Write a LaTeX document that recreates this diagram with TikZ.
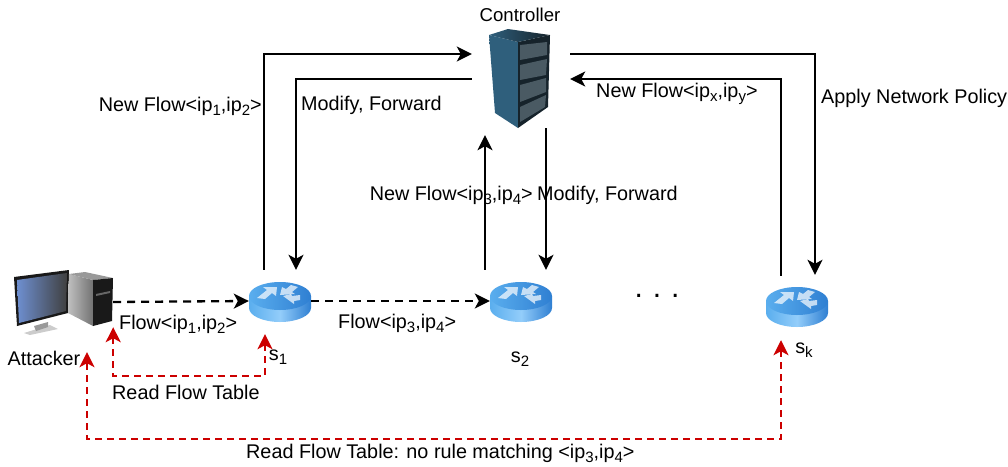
\documentclass[tikz,border=0pt]{standalone}
\usepackage{fontspec}
\setmainfont{Liberation Sans}
\usetikzlibrary{arrows.meta,positioning,calc}
\definecolor{flowred}{HTML}{CC0000}
\definecolor{rackpanel}{HTML}{4A5A63}
\definecolor{rackside}{HTML}{2F5F7C}
\definecolor{rackfront}{HTML}{16232B}
\definecolor{routertop}{HTML}{5AAEEE}
\definecolor{routerdark}{HTML}{2F7FD2}
\definecolor{routerlight}{HTML}{93CDFA}
\definecolor{screenblue}{HTML}{6E8FD0}
\newcommand{\lowsub}[1]{\raisebox{-4pt}{\fontsize{15}{15}\selectfont #1}}
\tikzset{
    lbl/.style={inner sep=0pt, font=\fontsize{19.8}{22}\selectfont},
    box/.style={inner sep=0pt, minimum width=#1, minimum height=#1},
    solidflow/.style={line width=2.3pt, -{Stealth[length=15pt,width=15pt,inset=4pt]}},
    dashflow/.style={solidflow, dash pattern=on 8pt off 6pt},
    readflow/.style={line width=2.3pt, flowred, dash pattern=on 7pt off 5pt, {Stealth[length=15pt,width=15pt,inset=4pt]}-{Stealth[length=15pt,width=15pt,inset=4pt]}},
    routerarrow/.style={fill=white, fill opacity=0.7, draw=none},
    routericon/.pic={
        \shade[left color=routertop, right color=routerdark, middle color=routerlight]
            (-31,-5) -- (-31,7) .. controls (-31,14.7) and (-17,21) .. (0,21)
            .. controls (17,21) and (31,14.7) .. (31,7) -- (31,-5) -- cycle;
        \shade[left color=routertop, right color=routerdark]
            (0,-5) ellipse[x radius=31, y radius=14];
        \fill[routerarrow] (-17,-14) -- (-3,-14) -- (-4,-5) -- (-8,-8) -- (-15,-2) -- (-23,-3) -- (-13,-11) -- cycle;
        \fill[routerarrow] (0,-6) -- (2,-14) -- (6,-12) -- (11,-16) -- (18,-14) -- (12,-9) -- (15,-7) -- cycle;
        \fill[routerarrow] (3,-5) -- (11,-7) -- (12,-5) -- (20,-6) -- (20,-1) -- (14,0) -- (14,3) -- cycle;
    }
}
\begin{document}
\begin{tikzpicture}[x=1pt, y=-1pt]
    \useasboundingbox (0,0) rectangle (1008,466);

    % Controller
    \node[box=98pt] (Controller) at (521,79) {};
    \shade[top color=rackside, middle color=black, bottom color=rackside]
        (489,35) -- (518,42) -- (518,128) -- (495,113) -- cycle;
    \fill[rackfront] (518,42) -- (550,35) -- (548,107) -- (518,128) -- cycle;
    \shade[left color=rackside, right color=rackfront]
        (489,35) -- (508,29) -- (550,35) -- (518,42) -- cycle;
    \fill[rackpanel] (520,45) -- (547,42) -- (547,55) -- (520,60) -- cycle;
    \fill[rackpanel] (520,65) -- (547,59) -- (546,75) -- (520,80) -- cycle;
    \fill[rackpanel] (520,85) -- (546,78) -- (546,92) -- (520,102) -- cycle;
    \fill[rackpanel] (520,107) -- (546,95) -- (545,107) -- (520,122) -- cycle;

    % Attacker
    \node[box=66pt, minimum width=99pt] (Attacker) at (63.5,302) {};
    \fill[black!20] (24,333) -- (50,325) -- (58,329) -- (30,335) -- cycle;
    \fill[black!40] (34,326) -- (48,322) -- (48,327) -- (36,331) -- cycle;
    \fill[black!90] (14,277) -- (69,270) -- (68,313) -- (17,326) -- cycle;
    \shade[left color=screenblue, right color=black!75]
        (17,280) -- (67,273) -- (66,311) -- (19,323) -- cycle;
    \shade[left color=black!25, right color=black!55]
        (69,274) -- (93,280) -- (93,326) -- (68,313) -- cycle;
    \fill[black!40] (69,274) -- (85,272) -- (113,278) -- (93,280) -- cycle;
    \fill[black!90] (93,280) -- (113,278) -- (112,321) -- (93,326) -- cycle;
    \fill[black!60] (96,294) -- (110,291) -- (110,293) -- (96,296) -- cycle;

    % Switches
    \node[box=62pt] (S1) at (280,301) {};
    \node[box=62pt] (S2) at (521,301) {};
    \node[box=62pt] (Sk) at (797,306) {};
    \pic at (S1) {routericon};
    \pic at (S2) {routericon};
    \pic at (Sk) {routericon};

    % Labels
    \node[lbl] (AttackerText) at (44,358) {Attacker};
    \node[lbl, font=\fontsize{18.6}{22}\selectfont] (ControllerText) at (520,15) {Controller};
    \node[lbl] (S1Text) at (278,357) {s\lowsub{1}};
    \node[lbl] (S2Text) at (520,359) {s\lowsub{2}};
    \node[lbl] (SkText) at (804,350) {s\lowsub{k}};
    \node[lbl, font=\fontsize{30}{30}\selectfont] (Dots) at (657,296) {.\,\,.\,\,.};

    \node[lbl, anchor=east] (NewA) at (262,106) {New Flow<ip\lowsub{1},ip\lowsub{2}>};
    \node[lbl, anchor=west] (ModA) at (301,105) {Modify, Forward};
    \node[lbl, anchor=east] (NewB) at (533,195) {New Flow<ip\lowsub{3},ip\lowsub{4}>};
    \node[lbl, anchor=west] (ModB) at (537,195) {Modify, Forward};
    \node[lbl, anchor=west] (NewC) at (596,94) {New Flow<ip\lowsub{x},ip\lowsub{y}>};
    \node[lbl, anchor=west] (Policy) at (821,98) {Apply Network Policy};
    \node[lbl, anchor=west] (FlowA) at (119,324) {Flow<ip\lowsub{1},ip\lowsub{2}>};
    \node[lbl, anchor=west] (FlowB) at (338,323) {Flow<ip\lowsub{3},ip\lowsub{4}>};
    \node[lbl, anchor=west] (ReadA) at (112,392) {Read Flow Table};
    \node[lbl, anchor=west] (ReadB) at (246,453) {Read Flow Table: no rule matching <ip\lowsub{3},ip\lowsub{4}>};

    % Controller links
    \draw[solidflow] ($(S1.north)+(-16,0)$) |- ($(Controller.west)+(0,-25)$);
    \draw[solidflow] (Controller.west) -| ($(S1.north)+(16,0)$);
    \draw[solidflow] ($(S2.north)+(-36,0)$) -- ($(Controller.south)+(-36,7)$);
    \draw[solidflow] ($(Controller.south)+(25,0)$) -- ($(S2.north)+(25,0)$);
    \draw[solidflow] ($(Controller.east)+(0,-25)$) -| ($(Sk.north)+(18,0)$);
    \draw[solidflow] ($(Sk.north)+(-16,1)$) |- (Controller.east);

    % Flow path
    \draw[dashflow] (Attacker.east) -- (S1.west);
    \draw[dashflow] (S1.east) -- (S2.west);

    % Read flow table
    \draw[readflow] ($(S1.south)+(-15,2)$) -- ++(0,42) -| ($(Attacker.south east)+(0,-8)$);
    \draw[readflow] ($(Sk.south)+(-16,3)$) -- ++(0,99) -| ($(Attacker.south)+(23.5,17)$);
\end{tikzpicture}
\end{document}
